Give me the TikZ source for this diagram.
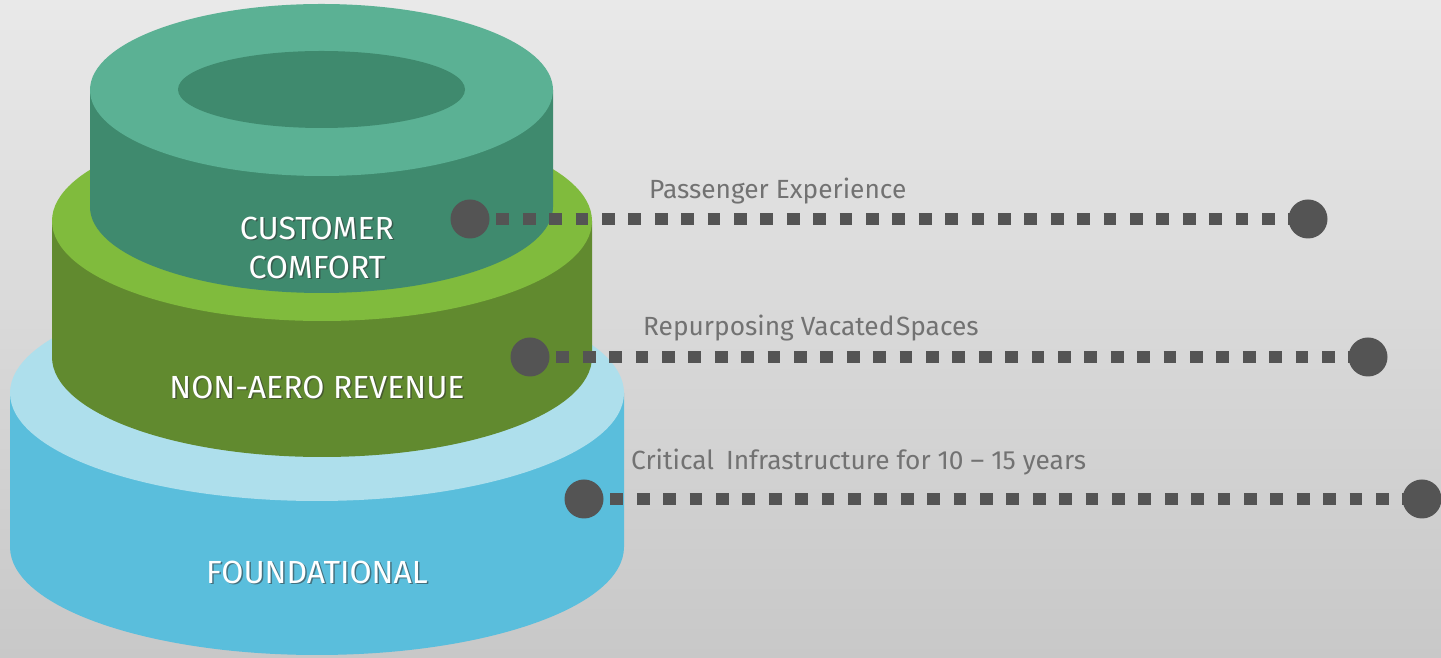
\documentclass[tikz,border=0pt]{standalone}
\usepackage{fontspec}
\setmainfont{Fira Sans}
\definecolor{bgtop}{HTML}{E9E9E9}
\definecolor{bgbot}{HTML}{C8C8C8}
\definecolor{tealface}{HTML}{5BB194}
\definecolor{tealside}{HTML}{3F8A6E}
\definecolor{greenface}{HTML}{80BB3D}
\definecolor{greenside}{HTML}{618A2F}
\definecolor{blueface}{HTML}{AEDFEC}
\definecolor{blueside}{HTML}{5ABEDC}
\definecolor{dotgray}{HTML}{545454}
\definecolor{txtgray}{HTML}{727272}
\tikzset{
  layerlabel/.style={text=white, font=\fontsize{32}{36}\selectfont, align=center, inner sep=0pt},
  layershadow/.style={text=black!80, opacity=0.55, font=\fontsize{32}{36}\selectfont, align=center, inner sep=0pt},
  bigdot/.style={circle, fill=dotgray, minimum size=39pt, inner sep=0pt},
  dotline/.style={line width=12pt, draw=dotgray, dash pattern=on 12.7pt off 13.7pt},
  sidetext/.style={text=txtgray, font=\fontsize{26.3}{29}\selectfont, anchor=base west, inner sep=0pt}
}
\begin{document}
\begin{tikzpicture}[x=1pt,y=1pt]
\useasboundingbox (0,0) rectangle (1441,658);
\shade[top color=bgtop, bottom color=bgbot] (0,0) rectangle (1441,658);
% bottom cylinder
\fill[blueside] (10,265) -- (10,111) arc[start angle=180, end angle=360, x radius=307pt, y radius=108pt] -- (624,265) -- cycle;
\fill[blueface] (317,265) ellipse [x radius=307pt, y radius=108pt];
% middle cylinder
\fill[greenside] (52,437) -- (52,301) arc[start angle=180, end angle=360, x radius=270pt, y radius=100pt] -- (592,437) -- cycle;
\fill[greenface] (322,437) ellipse [x radius=270pt, y radius=100pt];
% top cylinder
\fill[tealside] (90,568) -- (90,451) arc[start angle=180, end angle=360, x radius=231.5pt, y radius=86pt] -- (553,568) -- cycle;
\fill[tealface] (321.5,568) ellipse [x radius=231.5pt, y radius=86pt];
\fill[tealside] (321.5,568.5) ellipse [x radius=143.5pt, y radius=38.5pt];
% labels
\node[layershadow] at (318.5,428.5) {CUSTOMER};
\node[layerlabel] (cc1) at (317,430) {CUSTOMER};
\node[layershadow] at (318.5,389.5) {COMFORT};
\node[layerlabel] (cc2) at (317,391) {COMFORT};
\node[layershadow] at (318.5,269.5) {NON-AERO REVENUE};
\node[layerlabel] (nar) at (317,271) {NON-AERO REVENUE};
\node[layershadow] at (318.5,84.5) {FOUNDATIONAL};
\node[layerlabel] (fnd) at (317,86) {FOUNDATIONAL};
% dotted connectors
\coordinate (a1) at (470,439);
\coordinate (b1) at (1308,439);
\coordinate (a2) at (530,301);
\coordinate (b2) at (1368,301);
\coordinate (a3) at (584,159);
\coordinate (b3) at (1422,159);
\draw[dotline] (a1) -- (b1);
\draw[dotline] (a2) -- (b2);
\draw[dotline] (a3) -- (b3);
\node[bigdot] (d1l) at (a1) {};
\node[bigdot] (d1r) at (b1) {};
\node[bigdot] (d2l) at (a2) {};
\node[bigdot] (d2r) at (b2) {};
\node[bigdot] (d3l) at (a3) {};
\node[bigdot] (d3r) at (b3) {};
% side texts
\node[sidetext] (t1) at (649,459) {Passenger Experience};
\node[sidetext] (t2) at (643,322) {Repurposing Vacated\hspace{1.5pt}Spaces};
\node[sidetext] (t3) at (631,188) {Critical\hspace{5pt} Infrastructure for 10 – 15 years};
\end{tikzpicture}
\end{document}
